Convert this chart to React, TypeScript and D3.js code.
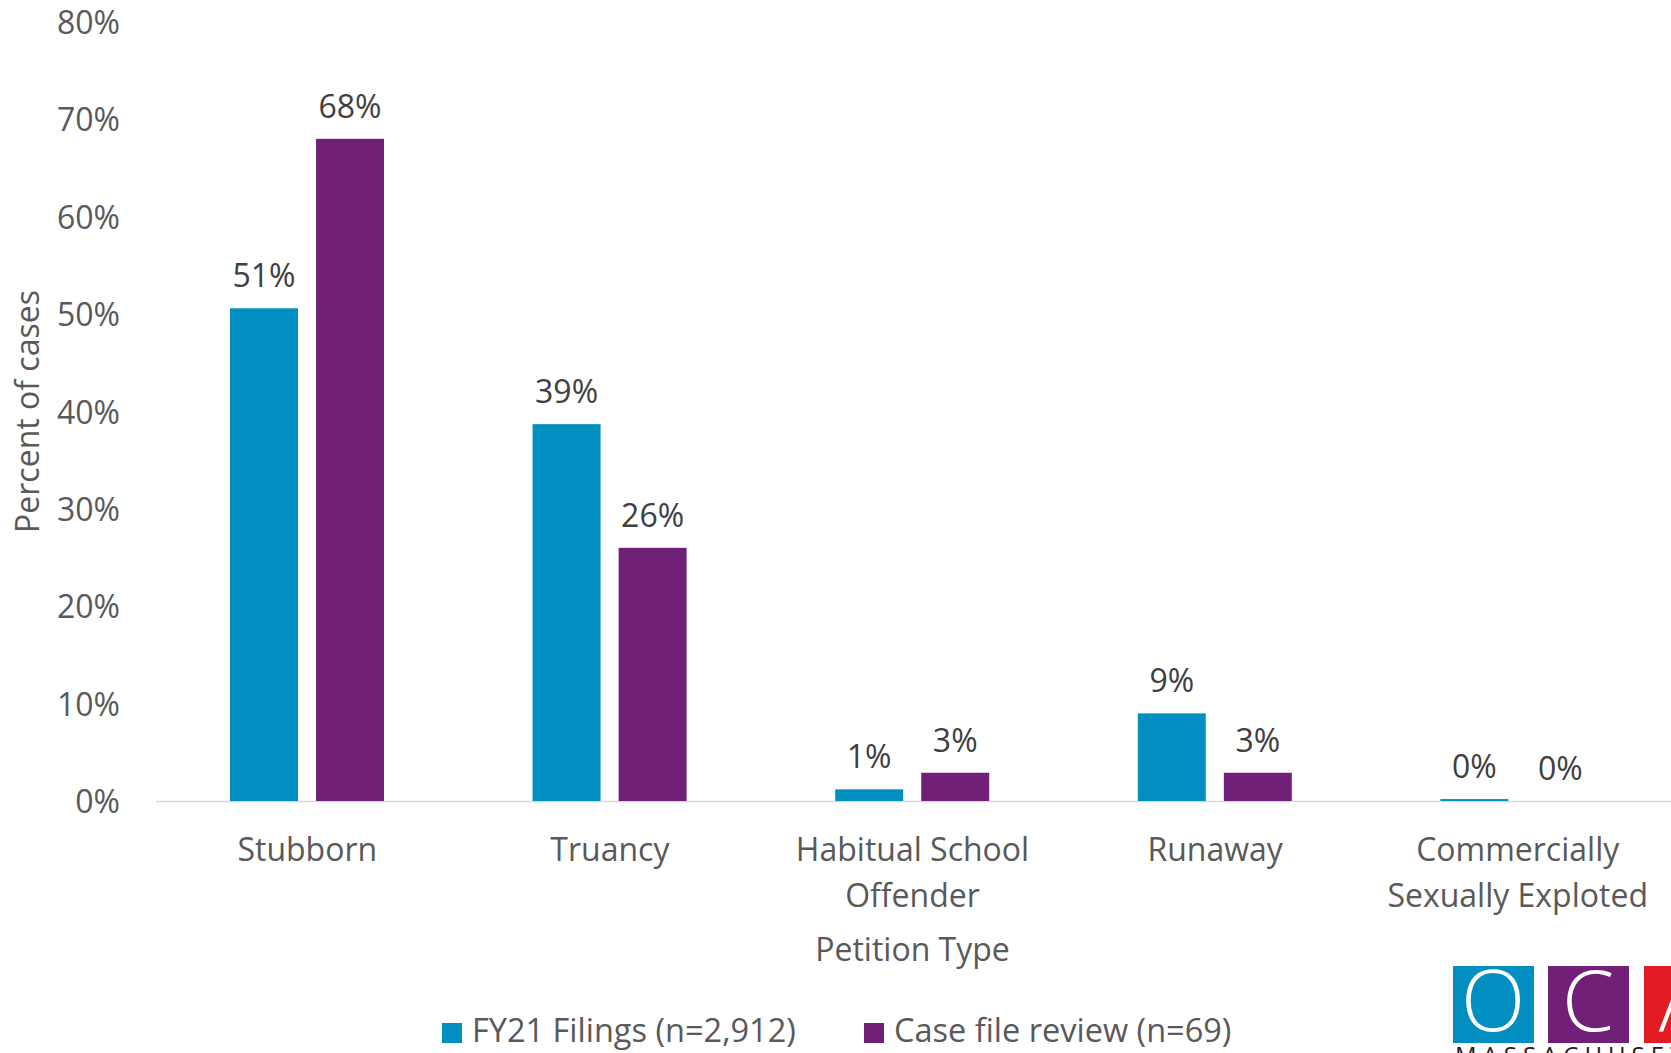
import * as d3 from 'd3';
import React, { useEffect, useRef } from 'react';

const categories = ['Stubborn', 'Truancy', 'Habitual School\nOffender', 'Runaway', 'Commercially\nSexually Exploted'];
const seriesNames = ['FY21 Filings (n=2,912)', 'Case file review (n=69)'];
const filings = [50.6, 38.7, 1.2, 9, 0.2];
const caseReview = [68, 26, 2.9, 2.9, 0];
const yTicks = [0, 10, 20, 30, 40, 50, 60, 70, 80];
const colors = ['#008FC0', '#702077'];

const W = 1671;
const H = 1053;
const FONT = '"Open Sans", sans-serif';

const App: React.FC = () => {
  const svgRef = useRef<SVGSVGElement>(null);

  useEffect(() => {
    if (!svgRef.current) return;
    const svg = d3.select(svgRef.current);
    svg.selectAll('*').remove();

    const left = 156;
    const right = 1669;
    const top = 22;
    const base = 801;

    const x0 = d3.scaleBand<string>().domain(categories).range([left, right]);
    const x1 = d3.scaleBand<number>().domain([0, 1]).range([74, 228]).paddingInner(0.21);
    const y = d3.scaleLinear().domain([0, 80]).range([base, top]);
    const pct = (v: number) => `${Math.round(v)}%`;

    // y axis labels
    const yAxis = svg.append('g')
      .attr('transform', `translate(${left},0)`)
      .call(d3.axisLeft(y).tickValues(yTicks).tickSize(0).tickPadding(36).tickFormat(d => `${d}%`));
    yAxis.select('.domain').remove();
    yAxis.selectAll('text')
      .attr('font-family', FONT)
      .attr('font-size', 32)
      .attr('fill', '#595959')
      .attr('dy', '0.36em');

    // baseline
    svg.append('line')
      .attr('x1', left).attr('x2', W)
      .attr('y1', base + 0.5).attr('y2', base + 0.5)
      .attr('stroke', '#d9d9d9').attr('stroke-width', 1.5);

    // bars
    const seriesData = [filings, caseReview];
    seriesData.forEach((vals, si) => {
      const g = svg.append('g');
      g.selectAll('rect')
        .data(vals)
        .join('rect')
        .attr('x', (_, i) => x0(categories[i])! + x1(si)!)
        .attr('y', d => y(d))
        .attr('width', x1.bandwidth())
        .attr('height', d => base - y(d))
        .attr('fill', colors[si]);
      g.selectAll('text')
        .data(vals)
        .join('text')
        .attr('x', (_, i) => x0(categories[i])! + x1(si)! + x1.bandwidth() / 2)
        .attr('y', d => y(d) - 21)
        .attr('text-anchor', 'middle')
        .attr('font-family', FONT)
        .attr('font-size', 32)
        .attr('fill', '#404040')
        .text(d => pct(d));
    });

    // x axis labels
    const xAxis = svg.append('g')
      .attr('transform', `translate(0,${base})`)
      .call(d3.axisBottom(x0).tickSize(0).tickPadding(0));
    xAxis.select('.domain').remove();
    xAxis.selectAll<SVGTextElement, string>('text')
      .attr('font-family', FONT)
      .attr('font-size', 32)
      .attr('fill', '#595959')
      .attr('y', 0)
      .attr('dy', null)
      .text(null)
      .each(function (d) {
        const t = d3.select(this);
        d.split('\n').forEach((line, li) => {
          t.append('tspan').attr('x', 0).attr('y', 60 + li * 46).text(line);
        });
      });

    // axis titles
    svg.append('text')
      .attr('x', x0('Habitual School\nOffender')! + x0.bandwidth() / 2)
      .attr('y', 961)
      .attr('text-anchor', 'middle')
      .attr('font-family', FONT).attr('font-size', 32).attr('fill', '#595959')
      .text('Petition Type');
    svg.append('text')
      .attr('transform', `translate(27,${(top + base) / 2}) rotate(-90)`)
      .attr('dy', '0.36em')
      .attr('text-anchor', 'middle')
      .attr('font-family', FONT).attr('font-size', 32).attr('fill', '#595959')
      .text('Percent of cases');

    // legend
    const legendX = [442, 864];
    seriesNames.forEach((name, i) => {
      svg.append('rect')
        .attr('x', legendX[i]).attr('y', 1023)
        .attr('width', 20).attr('height', 20)
        .attr('fill', colors[i]);
      svg.append('text')
        .attr('x', legendX[i] + 30).attr('y', 1030)
        .attr('dy', '0.36em')
        .attr('font-family', FONT).attr('font-size', 32.5).attr('fill', '#595959')
        .text(name);
    });

    // logo (cut off at the corner, as in the source image)
    const logo = [
      { x: 1453, c: '#008FC0', l: 'O' },
      { x: 1548, c: '#702077', l: 'C' },
      { x: 1644, c: '#E31B23', l: 'A' },
    ];
    logo.forEach(d => {
      svg.append('rect').attr('x', d.x).attr('y', 966).attr('width', 81).attr('height', 77).attr('fill', d.c);
      svg.append('text')
        .attr('x', d.x + 40).attr('y', 1031)
        .attr('text-anchor', 'middle')
        .attr('font-family', FONT).attr('font-size', 84).attr('font-weight', 300).attr('fill', '#fff')
        .text(d.l);
    });
    svg.append('text')
      .attr('x', 1455).attr('y', 1064)
      .attr('font-family', FONT).attr('font-size', 24).attr('fill', '#222')
      .attr('letter-spacing', 6)
      .text('MASSACHUSETTS');
  }, []);

  return (
    <svg
      ref={svgRef}
      width={W}
      height={H}
      style={{ position: 'absolute', left: 0, top: 0, background: '#fff' }}
    />
  );
};

export default App;
